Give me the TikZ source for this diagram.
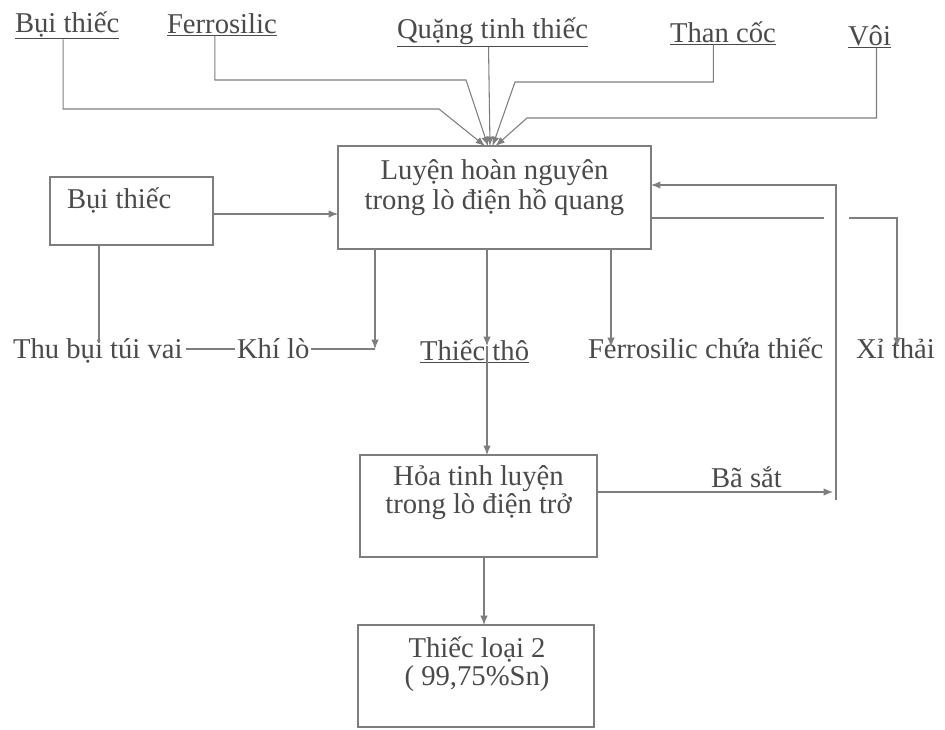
\documentclass[tikz,border=0pt]{standalone}
\usepackage{fontspec}
\setmainfont{Liberation Serif}
\usetikzlibrary{arrows.meta,calc}
\definecolor{ink}{HTML}{4A4A4A}
\definecolor{wirec}{HTML}{7E7E7E}
\begin{document}
\begin{tikzpicture}[x=0.75pt,y=-0.75pt,
  every node/.style={inner sep=0pt, outer sep=0pt},
  txt/.style={text=ink, font=\fontsize{21.5pt}{26pt}\selectfont, anchor=base},
  ltxt/.style={txt, anchor=base west},
  box/.style={draw=wirec, line width=0.8pt, rectangle},
  wire/.style={draw=wirec, line width=0.8pt},
  arr/.style={wire, -{Latex[length=7pt,width=5.5pt]}}
]
\useasboundingbox (0,0) rectangle (945,729);
\fill[white] (0,0) rectangle (945,729);

% raw materials along the top
\node[ltxt] (bui)   at (15,32)  {\underline{Bụi thiếc}};
\node[ltxt] (ferro) at (167,33) {\underline{Ferrosilic}};
\node[ltxt] (quang) at (397,38) {\underline{Quặng tinh thiếc}};
\node[ltxt] (than)  at (670,42) {\underline{Than cốc}};
\node[ltxt] (voi)   at (848,45) {\underline{Vôi}};

% process boxes
\node[box, minimum width=234.75pt, minimum height=77.25pt] (main) at (494.5,197.5) {};
\node[txt] (mainA) at (494.5,179) {Luyện hoàn nguyên};
\node[txt] (mainB) at (494.5,209) {trong lò điện hồ quang};

\node[box, minimum width=122.25pt, minimum height=51pt] (lbox) at (131.5,211) {};
\node[ltxt] (lboxT) at (67,208) {Bụi thiếc};

\node[box, minimum width=177.75pt, minimum height=76.5pt] (hoa) at (478.5,506) {};
\node[txt] (hoaA) at (478.5,485) {Hỏa tinh luyện};
\node[txt] (hoaB) at (478.5,513) {trong lò điện trở};

\node[box, minimum width=177pt, minimum height=76.5pt] (t2) at (476,676) {};
\node[txt] (t2A) at (477,657) {Thiếc loại 2};
\node[txt] (t2B) at (477,685) {( 99,75\%Sn)};

% products of the arc furnace
\node[ltxt] (thu) at (13,358)  {Thu bụi túi vai};
\node[ltxt] (khi) at (237,358) {Khí lò};
\node[ltxt] (tt)  at (420,360) {\underline{Thiếc thô}};
\node[ltxt] (fc)  at (588,358) {Ferrosilic chứa thiếc};
\node[ltxt] (xi)  at (856,358) {Xỉ thải};
\node[ltxt] (bs)  at (711,487) {Bã sắt};

% feeds converging on the furnace
\draw[arr] ($(bui.south)+(-4,0)$) |- (439,109) -- ($(main.north)+(-9.5,0)$);
\draw[arr] ($(ferro.south)+(-7,0)$) |- (466,80) -- ($(main.north)+(-6.5,0)$);
\draw[arr] ($(quang.south)+(-4,0)$) -- ($(main.north)+(-4.5,0)$);
\draw[arr] ($(than.south)+(-9.5,0)$) |- (515,82) -- ($(main.north)+(-2,0)$);
\draw[arr] ($(voi.south)+(7,0)$) |- (527,118) -- ($(main.north)+(1,0)$);

% recycled dust
\draw[arr] ($(lbox.east)+(0,3)$) coordinate (la) -- (la -| main.west);
\draw[wire] ($(thu.base west)+(86,-15)$) coordinate (tv) -- (tv |- lbox.south);
\draw[wire] ($(thu.base east)+(3,-9)$) -- ($(khi.base west)+(-2,-9)$);

% furnace gas
\coordinate (gasTip) at (375,349);
\draw[arr] (gasTip |- main.south) -- (gasTip);
\draw[wire] ($(khi.base east)+(2,-9)$) -- (gasTip);

% crude tin to refining
\coordinate (ttTip) at (487,346);
\draw[arr] (ttTip |- main.south) -- (ttTip);
\draw[arr] (ttTip) -- (ttTip |- hoa.north);

% tin-bearing ferrosilicon
\coordinate (fcTip) at (611,347);
\draw[arr] (fcTip |- main.south) -- (fcTip);

% slag, jumping over the return line
\coordinate (gapL) at (824,218);
\coordinate (gapR) at (849,218);
\coordinate (xTip) at (897,347);
\draw[wire] (gapL -| main.east) -- (gapL);
\draw[arr] (gapR) -| (xTip);

% iron dross returned to the arc furnace
\coordinate (bsTip) at (833,492);
\coordinate (fbB) at (836,500);
\coordinate (fbT) at (836,185);
\draw[arr] (bsTip -| hoa.east) -- (bsTip);
\draw[arr] (fbB) -- (fbT) -- (fbT -| main.east);

% refined tin
\coordinate (hx) at (484,0);
\draw[arr] (hx |- hoa.south) -- (hx |- t2.north);
\end{tikzpicture}
\end{document}
